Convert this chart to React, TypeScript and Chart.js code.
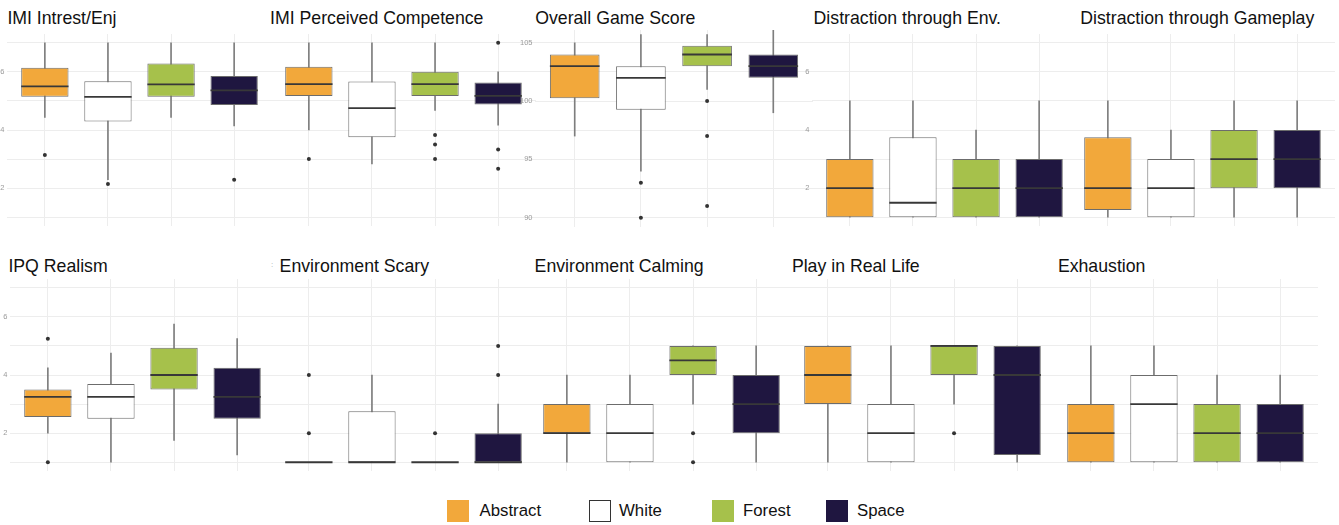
import React, { useEffect, useRef } from "react";
import { Chart, registerables } from "chart.js";

Chart.register(...registerables);

// ---------- data ----------
const categories = ["Abstract", "White", "Forest", "Space"];
const categoryPositions = [1, 2, 3, 4];
const likertTicks = [1, 2, 3, 4, 5, 6, 7];
const likertLabels = [2, 4, 6];
const scoreTicks = [90, 92.5, 95, 97.5, 100, 102.5, 105];
const scoreLabels = [90, 95, 100, 105];

// per category: [lower whisker, Q1, median, Q3, upper whisker]
const intrestEnjStats = [
  [4.43, 5.14, 5.5, 6.14, 7],
  [2.29, 4.29, 5.14, 5.68, 7],
  [4.43, 5.14, 5.57, 6.29, 7],
  [4.14, 4.86, 5.36, 5.86, 7],
];
const intrestEnjOutliers = [[3.14], [2.14], [], [2.29]];

const competenceStats = [
  [4.0, 5.17, 5.58, 6.17, 7],
  [2.83, 3.75, 4.75, 5.67, 7],
  [4.67, 5.17, 5.58, 6.0, 7],
  [4.17, 4.88, 5.17, 5.63, 6.0],
];
const competenceOutliers = [[3.0], [], [3.83, 3.5, 3.0], [7.0, 3.33, 2.67]];

const gameScoreStats = [
  [97, 100.25, 103, 104, 105],
  [94, 99.25, 102, 103, 105.7],
  [101, 103, 104, 104.75, 105.7],
  [99, 102, 103, 104, 106.1],
];
const gameScoreOutliers = [[], [93, 90], [100, 97, 91], []];

const distractEnvStats = [
  [1, 1, 2, 3, 5],
  [1, 1, 1.5, 3.75, 5],
  [1, 1, 2, 3, 4],
  [1, 1, 2, 3, 5],
];
const distractEnvOutliers = [[], [], [], []];

const distractGameStats = [
  [1, 1.25, 2, 3.75, 5],
  [1, 1, 2, 3, 4],
  [1, 2, 3, 4, 5],
  [1, 2, 3, 4, 5],
];
const distractGameOutliers = [[], [], [], []];

const realismStats = [
  [2, 2.56, 3.25, 3.5, 4.25],
  [1, 2.5, 3.25, 3.69, 4.75],
  [1.75, 3.5, 4, 4.94, 5.75],
  [1.25, 2.5, 3.25, 4.25, 5.25],
];
const realismOutliers = [[5.25, 1], [], [], []];

const scaryStats = [
  [1, 1, 1, 1, 1],
  [1, 1, 1, 2.75, 4],
  [1, 1, 1, 1, 1],
  [1, 1, 1, 2, 3],
];
const scaryOutliers = [[4, 2], [], [2], [5, 4]];

const calmingStats = [
  [1, 2, 2, 3, 4],
  [1, 1, 2, 3, 4],
  [3, 4, 4.5, 5, 5],
  [1, 2, 3, 4, 5],
];
const calmingOutliers = [[], [], [2, 1], []];

const realLifeStats = [
  [1, 3, 4, 5, 5],
  [1, 1, 2, 3, 5],
  [3, 4, 5, 5, 5],
  [1, 1.25, 4, 5, 5],
];
const realLifeOutliers = [[], [], [2], []];

const exhaustionStats = [
  [1, 1, 2, 3, 5],
  [1, 1, 3, 4, 5],
  [1, 1, 2, 3, 4],
  [1, 1, 2, 3, 4],
];
const exhaustionOutliers = [[], [], [], []];

const panels = [
  { title: "IMI Intrest/Enj", stats: intrestEnjStats, outliers: intrestEnjOutliers, ticks: likertTicks, labels: likertLabels, min: 0.7, max: 7.3 },
  { title: "IMI Perceived Competence", stats: competenceStats, outliers: competenceOutliers, ticks: likertTicks, labels: likertLabels, min: 0.7, max: 7.3 },
  { title: "Overall Game Score", stats: gameScoreStats, outliers: gameScoreOutliers, ticks: scoreTicks, labels: scoreLabels, min: 89.2, max: 106.1 },
  { title: "Distraction through Env.", stats: distractEnvStats, outliers: distractEnvOutliers, ticks: likertTicks, labels: likertLabels, min: 0.7, max: 7.3 },
  { title: "Distraction through Gameplay", stats: distractGameStats, outliers: distractGameOutliers, ticks: likertTicks, labels: likertLabels, min: 0.7, max: 7.3 },
  { title: "IPQ Realism", stats: realismStats, outliers: realismOutliers, ticks: likertTicks, labels: likertLabels, min: 0.7, max: 7.3 },
  { title: "Environment Scary", stats: scaryStats, outliers: scaryOutliers, ticks: likertTicks, labels: likertLabels, min: 0.7, max: 7.3 },
  { title: "Environment Calming", stats: calmingStats, outliers: calmingOutliers, ticks: likertTicks, labels: likertLabels, min: 0.7, max: 7.3 },
  { title: "Play in Real Life", stats: realLifeStats, outliers: realLifeOutliers, ticks: likertTicks, labels: likertLabels, min: 0.7, max: 7.3 },
  { title: "Exhaustion", stats: exhaustionStats, outliers: exhaustionOutliers, ticks: likertTicks, labels: likertLabels, min: 0.7, max: 7.3 },
];

// ---------- layout & style ----------
const frames = [
  { left: 7, right: 272, top: 34, bottom: 226, axisW: 7, titleX: 7.4, titleY: 25 },
  { left: 271, right: 536, top: 34, bottom: 226, axisW: 0, titleX: 270.1, titleY: 25 },
  { left: 535, right: 813, top: 30, bottom: 227, axisW: 20, titleX: 535.2, titleY: 25 },
  { left: 812, right: 1077, top: 34, bottom: 226, axisW: 12, titleX: 813.6, titleY: 25 },
  { left: 1070, right: 1335, top: 34, bottom: 226, axisW: 0, titleX: 1080.3, titleY: 25 },
  { left: 10, right: 275, top: 279, bottom: 471, axisW: 10, titleX: 8.4, titleY: 273.3 },
  { left: 271, right: 536, top: 279, bottom: 471, axisW: 0, titleX: 279.6, titleY: 273.3 },
  { left: 529, right: 794, top: 279, bottom: 471, axisW: 0, titleX: 534.6, titleY: 273.3 },
  { left: 790, right: 1055, top: 279, bottom: 471, axisW: 0, titleX: 791.9, titleY: 273.3 },
  { left: 1053, right: 1318, top: 279, bottom: 471, axisW: 0, titleX: 1057.9, titleY: 273.3 },
];

const fills = ["#F2A83B", "#FFFFFF", "#A6C14B", "#1F1640"];
const FONT = "'Liberation Sans', Arial, Helvetica, sans-serif";
const GRID = "#EDEDED";
const TITLE_SIZE = 17.7;

type PanelSpec = (typeof panels)[number];
type Frame = (typeof frames)[number];

function BoxPanel({ spec, frame }: { spec: PanelSpec; frame: Frame }) {
  const ref = useRef<HTMLCanvasElement | null>(null);
  const w = frame.right - frame.left + frame.axisW;
  const h = frame.bottom - frame.top;

  useEffect(() => {
    const canvas = ref.current;
    if (!canvas) return;
    const boxData = spec.stats.map((s, i) => ({ x: categoryPositions[i], y: [s[1], s[3]] }));
    const whiskerData = spec.stats.map((s, i) => ({ x: categoryPositions[i], y: [s[0], s[4]] }));
    const medianData = spec.stats.map((s, i) => ({ x: categoryPositions[i], y: s[2] }));
    const outlierData = spec.outliers.flatMap((arr, i) => arr.map((v) => ({ x: categoryPositions[i], y: v })));

    const chart = new Chart(canvas, {
      type: "bar",
      data: {
        datasets: [
          {
            type: "line",
            label: "outliers",
            data: outlierData as any,
            showLine: false,
            pointStyle: "circle",
            pointRadius: 2,
            pointBackgroundColor: "#333333",
            pointBorderWidth: 0,
          } as any,
          {
            type: "line",
            label: "median",
            data: medianData as any,
            showLine: false,
            pointStyle: "line",
            pointRadius: (c: any) => {
              const s = c.chart.scales.x;
              if (!s) return 0;
              const d = s.getPixelForValue(2) - s.getPixelForValue(1);
              return isFinite(d) ? d * 0.375 : 0;
            },
            pointBorderColor: "#383838",
            pointBorderWidth: 1.8,
          } as any,
          {
            type: "bar",
            label: "box",
            data: boxData as any,
            backgroundColor: fills,
            borderColor: "#6c6c6c",
            borderWidth: 1,
            borderSkipped: false,
            grouped: false,
            barPercentage: 0.75,
            categoryPercentage: 1,
          } as any,
          {
            type: "bar",
            label: "whisker",
            data: whiskerData as any,
            backgroundColor: "#7e7e7e",
            borderWidth: 0,
            barThickness: 1,
            grouped: false,
          } as any,
        ],
      },
      options: {
        responsive: false,
        maintainAspectRatio: false,
        animation: false,
        devicePixelRatio: 1,
        events: [],
        layout: { autoPadding: false, padding: 0 },
        plugins: { legend: { display: false }, tooltip: { enabled: false }, title: { display: false } },
        scales: {
          x: {
            type: "linear",
            min: 0.4,
            max: 4.6,
            bounds: "data",
            offset: false,
            afterBuildTicks: (s: any) => {
              s.ticks = categoryPositions.map((v) => ({ value: v }));
            },
            afterFit: (s: any) => {
              s.height = 0;
              s.paddingLeft = 0;
              s.paddingRight = 0;
              s.paddingTop = 0;
              s.paddingBottom = 0;
            },
            ticks: { display: false },
            grid: { color: GRID, lineWidth: 1, drawTicks: false, offset: false },
            border: { display: false },
          },
          y: {
            type: "linear",
            min: spec.min,
            max: spec.max,
            bounds: "data",
            beginAtZero: false,
            afterBuildTicks: (s: any) => {
              s.ticks = spec.ticks.map((v) => ({ value: v }));
            },
            afterFit: (s: any) => {
              s.width = frame.axisW;
              s.paddingTop = 0;
              s.paddingBottom = 0;
              s.paddingLeft = 0;
              s.paddingRight = 0;
            },
            ticks: {
              display: frame.axisW > 0,
              padding: 2.5,
              color: "#9a9a9a",
              font: { family: FONT, size: 7.5 },
              callback: (v: any) => (spec.labels.includes(Number(v)) ? String(v) : ""),
            },
            grid: { color: GRID, lineWidth: 1, drawTicks: false },
            border: { display: false },
          },
        },
      } as any,
    });
    return () => chart.destroy();
  }, [spec, frame]);

  return (
    <canvas
      ref={ref}
      width={w}
      height={h}
      style={{
        position: "absolute",
        left: frame.left - frame.axisW,
        top: frame.top,
        width: w,
        height: h,
      }}
    />
  );
}

const legendItems = [
  { label: categories[0], fill: fills[0], border: "none", sx: 447, tx: 479.5 },
  { label: categories[1], fill: fills[1], border: "1px solid #333", sx: 589, tx: 619 },
  { label: categories[2], fill: fills[2], border: "none", sx: 712, tx: 743 },
  { label: categories[3], fill: fills[3], border: "none", sx: 826, tx: 857 },
];

export default function App() {
  useEffect(() => {
    document.body.style.margin = "0";
  }, []);
  return (
    <div
      style={{
        position: "absolute",
        left: 0,
        top: 0,
        width: 1339,
        height: 525,
        background: "#ffffff",
        overflow: "hidden",
        fontFamily: FONT,
      }}
    >
      {panels.map((p, i) => (
        <BoxPanel key={p.title} spec={p} frame={frames[i]} />
      ))}
      {panels.map((p, i) => (
        <div
          key={"t" + p.title}
          style={{
            position: "absolute",
            left: frames[i].titleX,
            top: frames[i].titleY - TITLE_SIZE * 0.8465,
            fontSize: TITLE_SIZE,
            lineHeight: TITLE_SIZE + "px",
            color: "#111111",
            whiteSpace: "nowrap",
          }}
        >
          {p.title}
        </div>
      ))}
      <div
        style={{
          position: "absolute",
          left: 271,
          top: 261,
          fontSize: 8,
          lineHeight: "8px",
          color: "#aaaaaa",
        }}
      >
        :
      </div>
      {legendItems.map((it) => (
        <React.Fragment key={it.label}>
          <div
            style={{
              position: "absolute",
              left: it.sx,
              top: 499.5,
              width: 22,
              height: 22,
              boxSizing: "border-box",
              background: it.fill,
              border: it.border,
            }}
          />
          <div
            style={{
              position: "absolute",
              left: it.tx,
              top: 517.3 - 16.8 * 0.8465,
              fontSize: 16.8,
              lineHeight: "16.8px",
              color: "#111111",
              whiteSpace: "nowrap",
            }}
          >
            {it.label}
          </div>
        </React.Fragment>
      ))}
    </div>
  );
}
